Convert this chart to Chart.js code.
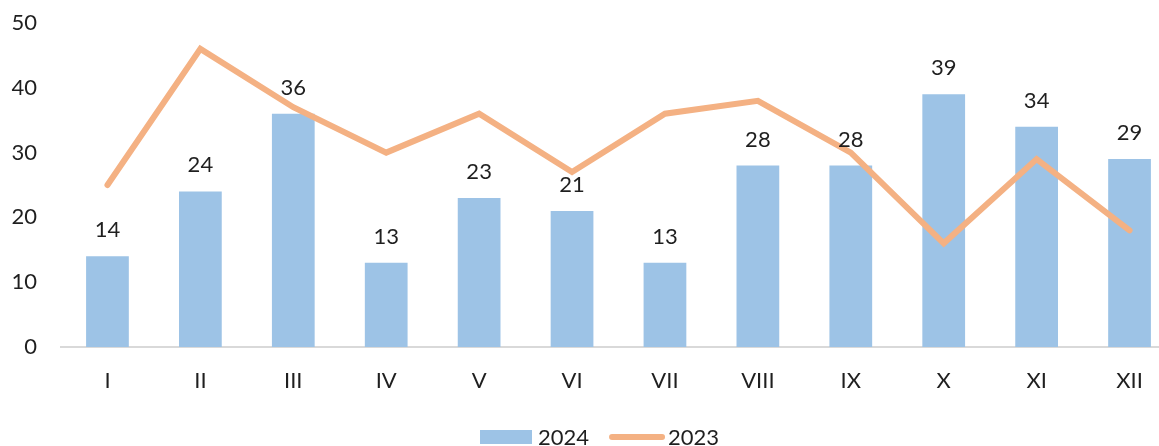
<!DOCTYPE html>
<html>
<head>
<meta charset="utf-8">
<script src="https://cdn.jsdelivr.net/npm/chart.js@4/dist/chart.umd.min.js"></script>
<style>
  html, body { margin: 0; padding: 0; overflow: hidden; background: #fff; }
  #wrap { width: 1180px; height: 446px; }
</style>
</head>
<body>
<div id="wrap"><canvas id="monthChart"></canvas></div>
<script>
const months = ['I', 'II', 'III', 'IV', 'V', 'VI', 'VII', 'VIII', 'IX', 'X', 'XI', 'XII'];
const values2024 = [14, 24, 36, 13, 23, 21, 13, 28, 28, 39, 34, 29];
const values2023 = [25, 46, 37, 30, 36, 27, 36, 38, 30, 16, 29, 18];
const yTicks = [0, 10, 20, 30, 40, 50];

const fontFamily = 'Lato, "Noto Sans", sans-serif';
const textColor = '#1f1f1f';
const barColor = '#9DC3E6';
const lineColor = '#F4B183';

// labels above the bars
const barLabels = {
    id: 'barLabels',
    afterDatasetsDraw(chart) {
        const ctx = chart.ctx;
        const meta = chart.getDatasetMeta(0);
        ctx.save();
        ctx.font = '22px ' + fontFamily;
        ctx.fillStyle = textColor;
        ctx.textAlign = 'center';
        ctx.textBaseline = 'alphabetic';
        meta.data.forEach(function (bar, i) {
            ctx.fillText(String(values2024[i]), bar.x, bar.y - 19);
        });
        ctx.restore();
    }
};

// legend drawn by hand: bar swatch + line swatch
const bottomLegend = {
    id: 'bottomLegend',
    afterDraw(chart) {
        const ctx = chart.ctx;
        const ds = chart.data.datasets;
        const y = chart.height - 9;
        let x = 480;
        ctx.save();
        ctx.font = '22px ' + fontFamily;
        ctx.fillStyle = textColor;
        ctx.textBaseline = 'middle';

        ctx.fillStyle = barColor;
        ctx.fillRect(x, y - 7, 52, 14);
        x += 58;
        ctx.fillStyle = textColor;
        ctx.fillText(ds[0].label, x, y + 1);
        x += ctx.measureText(ds[0].label).width + 23;

        ctx.strokeStyle = lineColor;
        ctx.lineWidth = 6;
        ctx.lineCap = 'round';
        ctx.beginPath();
        ctx.moveTo(x, y);
        ctx.lineTo(x + 50, y);
        ctx.stroke();
        x += 56;
        ctx.fillText(ds[1].label, x, y + 1);
        ctx.restore();
    }
};

document.addEventListener('DOMContentLoaded', function () {
    const ctx = document.getElementById('monthChart').getContext('2d');
    new Chart(ctx, {
        type: 'bar',
        data: {
            labels: months,
            datasets: [
                {
                    label: '2024',
                    data: values2024,
                    backgroundColor: barColor,
                    barPercentage: 0.46,
                    categoryPercentage: 1,
                    order: 1
                },
                {
                    type: 'line',
                    label: '2023',
                    data: values2023,
                    borderColor: lineColor,
                    backgroundColor: lineColor,
                    borderWidth: 6,
                    borderCapStyle: 'round',
                    borderJoinStyle: 'miter',
                    pointRadius: 0,
                    tension: 0,
                    fill: false,
                    order: 0
                }
            ]
        },
        options: {
            responsive: true,
            maintainAspectRatio: false,
            animation: false,
            layout: { padding: { top: 23, right: 4, bottom: 49, left: 0 } },
            plugins: {
                tooltip: { enabled: false },
                legend: { display: false }
            },
            scales: {
                x: {
                    afterFit: function (scale) { scale.height = 50; },
                    grid: { display: false, drawTicks: false },
                    border: { display: true, color: '#d9d9d9', width: 2 },
                    ticks: {
                        color: textColor,
                        padding: 21,
                        maxRotation: 0,
                        font: { family: fontFamily, size: 22 }
                    }
                },
                y: {
                    min: 0,
                    max: 50,
                    afterFit: function (scale) {
                        scale.width = 61;
                        scale.paddingTop = 0;
                        scale.paddingBottom = 0;
                    },
                    afterBuildTicks: function (scale) {
                        scale.ticks = yTicks.map(v => ({ value: v }));
                    },
                    grid: { display: false, drawTicks: false },
                    border: { display: false },
                    ticks: {
                        color: textColor,
                        padding: 24,
                        font: { family: fontFamily, size: 22 }
                    }
                }
            }
        },
        plugins: [barLabels, bottomLegend]
    });
});
</script>
</body>
</html>
